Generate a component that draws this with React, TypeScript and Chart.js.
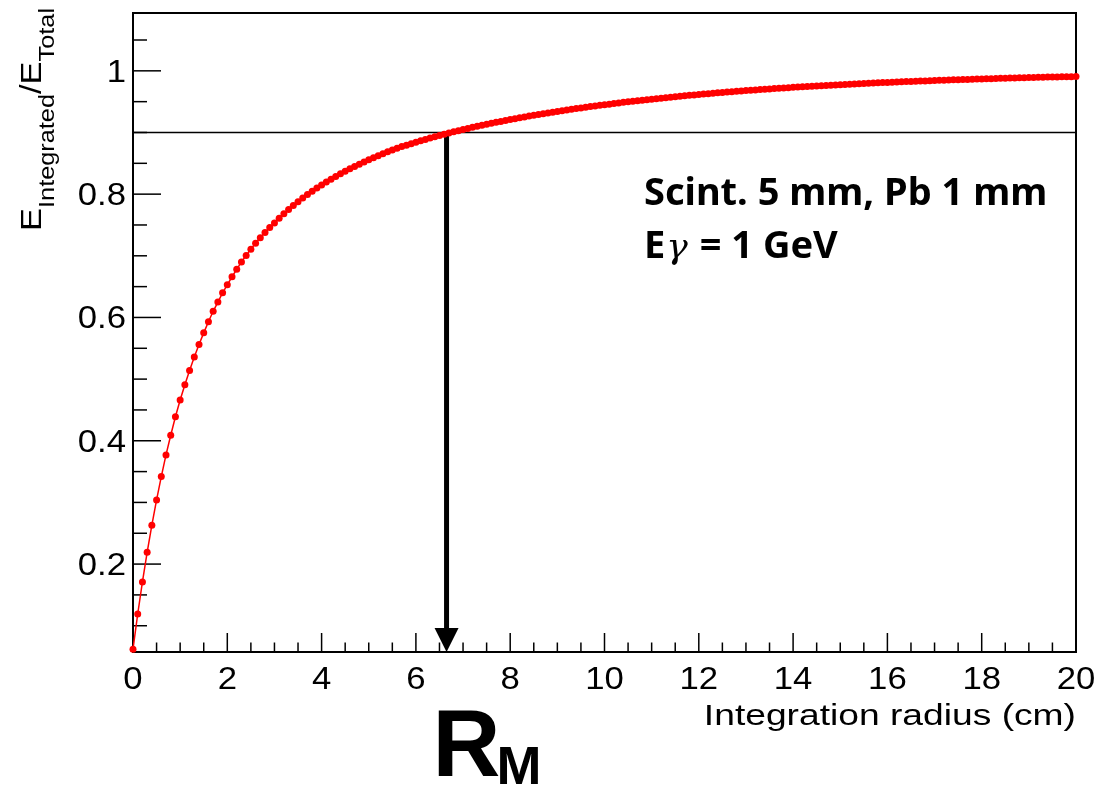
import React, { useEffect, useRef } from "react";
import { Chart, registerables } from "chart.js";

Chart.register(...registerables);

// Integration radius (cm), sampled every 0.1 cm
const radiusCm = [
  0, 0.1, 0.2, 0.3, 0.4, 0.5, 0.6, 0.7, 0.8, 0.9,
  1, 1.1, 1.2, 1.3, 1.4, 1.5, 1.6, 1.7, 1.8, 1.9,
  2, 2.1, 2.2, 2.3, 2.4, 2.5, 2.6, 2.7, 2.8, 2.9,
  3, 3.1, 3.2, 3.3, 3.4, 3.5, 3.6, 3.7, 3.8, 3.9,
  4, 4.1, 4.2, 4.3, 4.4, 4.5, 4.6, 4.7, 4.8, 4.9,
  5, 5.1, 5.2, 5.3, 5.4, 5.5, 5.6, 5.7, 5.8, 5.9,
  6, 6.1, 6.2, 6.3, 6.4, 6.5, 6.6, 6.7, 6.8, 6.9,
  7, 7.1, 7.2, 7.3, 7.4, 7.5, 7.6, 7.7, 7.8, 7.9,
  8, 8.1, 8.2, 8.3, 8.4, 8.5, 8.6, 8.7, 8.8, 8.9,
  9, 9.1, 9.2, 9.3, 9.4, 9.5, 9.6, 9.7, 9.8, 9.9,
  10, 10.1, 10.2, 10.3, 10.4, 10.5, 10.6, 10.7, 10.8, 10.9,
  11, 11.1, 11.2, 11.3, 11.4, 11.5, 11.6, 11.7, 11.8, 11.9,
  12, 12.1, 12.2, 12.3, 12.4, 12.5, 12.6, 12.7, 12.8, 12.9,
  13, 13.1, 13.2, 13.3, 13.4, 13.5, 13.6, 13.7, 13.8, 13.9,
  14, 14.1, 14.2, 14.3, 14.4, 14.5, 14.6, 14.7, 14.8, 14.9,
  15, 15.1, 15.2, 15.3, 15.4, 15.5, 15.6, 15.7, 15.8, 15.9,
  16, 16.1, 16.2, 16.3, 16.4, 16.5, 16.6, 16.7, 16.8, 16.9,
  17, 17.1, 17.2, 17.3, 17.4, 17.5, 17.6, 17.7, 17.8, 17.9,
  18, 18.1, 18.2, 18.3, 18.4, 18.5, 18.6, 18.7, 18.8, 18.9,
  19, 19.1, 19.2, 19.3, 19.4, 19.5, 19.6, 19.7, 19.8, 19.9,
  20,
];

// Fraction of the shower energy contained inside the radius
const energyFraction = [
  0.062, 0.119, 0.171, 0.219, 0.263, 0.304, 0.342, 0.377, 0.409, 0.439,
  0.466, 0.491, 0.514, 0.536, 0.556, 0.575, 0.593, 0.61, 0.625, 0.64,
  0.653, 0.666, 0.678, 0.69, 0.7006, 0.7108, 0.7203, 0.7293, 0.7378, 0.7458,
  0.7534, 0.7609, 0.7681, 0.775, 0.7815, 0.7877, 0.7936, 0.7993, 0.8047, 0.8099,
  0.8149, 0.8197, 0.8243, 0.8287, 0.833, 0.8371, 0.8411, 0.8449, 0.8486, 0.8522,
  0.8557, 0.8591, 0.8624, 0.8656, 0.8687, 0.8717, 0.8745, 0.8771, 0.8795, 0.8819,
  0.8843, 0.8866, 0.8888, 0.891, 0.8931, 0.8951, 0.8972, 0.8991, 0.901, 0.9029,
  0.9047, 0.9065, 0.9083, 0.91, 0.9117, 0.9133, 0.9149, 0.9165, 0.918, 0.9195,
  0.921, 0.9224, 0.9238, 0.9252, 0.9266, 0.9279, 0.9292, 0.9305, 0.9317, 0.933,
  0.9342, 0.9354, 0.9365, 0.9377, 0.9388, 0.9399, 0.9409, 0.942, 0.943, 0.9441,
  0.945, 0.946, 0.947, 0.9479, 0.9489, 0.9498, 0.9507, 0.9516, 0.9524, 0.9533,
  0.9541, 0.9549, 0.9557, 0.9565, 0.9573, 0.958, 0.9588, 0.9595, 0.9602, 0.961,
  0.9616, 0.9623, 0.963, 0.9636, 0.9643, 0.9649, 0.9655, 0.9661, 0.9667, 0.9673,
  0.9679, 0.9685, 0.969, 0.9696, 0.9701, 0.9707, 0.9712, 0.9717, 0.9722, 0.9727,
  0.9732, 0.9736, 0.9741, 0.9746, 0.975, 0.9755, 0.9759, 0.9763, 0.9767, 0.9772,
  0.9776, 0.978, 0.9783, 0.9787, 0.9791, 0.9795, 0.9798, 0.9802, 0.9805, 0.9809,
  0.9812, 0.9816, 0.9819, 0.9822, 0.9825, 0.9828, 0.9831, 0.9834, 0.9837, 0.984,
  0.9843, 0.9846, 0.9848, 0.9851, 0.9854, 0.9856, 0.9859, 0.9861, 0.9864, 0.9866,
  0.9869, 0.9871, 0.9873, 0.9875, 0.9878, 0.988, 0.9882, 0.9884, 0.9886, 0.9888,
  0.989, 0.9892, 0.9894, 0.9896, 0.9898, 0.9899, 0.9901, 0.9903, 0.9905, 0.9906,
  0.9908,
];

const xMajorTicks = [0, 2, 4, 6, 8, 10, 12, 14, 16, 18, 20];
const xTickLabels = ["0", "2", "4", "6", "8", "10", "12", "14", "16", "18", "20"];
const yMajorTicks = [0.2, 0.4, 0.6, 0.8, 1];
const yTickLabels = ["0.2", "0.4", "0.6", "0.8", "1"];

const X_MIN = 0;
const X_MAX = 20;
const Y_MIN = 0.0574;
const Y_MAX = 1.0938;
const X_MINOR_STEP = 0.5;
const Y_MINOR_STEP = 0.05;

const containmentLevel = 0.9; // 90 % containment
const moliereRadius = 6.65; // cm

const AXIS_FONT = "'Liberation Sans', Arial, Helvetica, sans-serif";
const LABEL_STRETCH = 1.12;
const TITLE_STRETCH = 1.24;
const YTITLE_STRETCH = 1.15;

type Seg = { text: string; font: string; dy: number };

function drawStretched(
  ctx: CanvasRenderingContext2D,
  text: string,
  x: number,
  y: number,
  font: string,
  align: "left" | "right" | "center",
  sx: number
) {
  ctx.save();
  ctx.font = font;
  const w = ctx.measureText(text).width * sx;
  const left = align === "left" ? x : align === "right" ? x - w : x - w / 2;
  ctx.translate(left, y);
  ctx.scale(sx, 1);
  ctx.textAlign = "left";
  ctx.textBaseline = "alphabetic";
  ctx.fillText(text, 0, 0);
  ctx.restore();
}

const rootDecorations = {
  id: "rootDecorations",
  beforeDatasetsDraw(chart: any) {
    const { ctx, chartArea: a, scales } = chart;
    const xs = scales.x;
    const ys = scales.y;
    ctx.save();
    ctx.fillStyle = "#fff";
    ctx.fillRect(0, 0, chart.width, chart.height);
    ctx.strokeStyle = "#000";
    ctx.fillStyle = "#000";
    ctx.lineCap = "butt";

    const seg = (x1: number, y1: number, x2: number, y2: number) => {
      ctx.beginPath();
      ctx.moveTo(x1, y1);
      ctx.lineTo(x2, y2);
      ctx.stroke();
    };

    // 90 % containment level
    const yl = ys.getPixelForValue(containmentLevel);
    ctx.lineWidth = 1.5;
    seg(a.left, yl, a.right, yl);

    // arrow down to the Moliere radius
    const ax = xs.getPixelForValue(moliereRadius);
    const head = 24;
    ctx.lineWidth = 5;
    seg(ax, yl, ax, a.bottom - head + 2);
    ctx.beginPath();
    ctx.moveTo(ax - 12, a.bottom - head);
    ctx.lineTo(ax + 12, a.bottom - head);
    ctx.lineTo(ax, a.bottom);
    ctx.closePath();
    ctx.fill();

    // ticks (inside the frame)
    ctx.lineWidth = 1.5;
    const xMajLen = 19;
    const yMajLen = 28;
    for (let v = X_MIN; v <= X_MAX + 1e-9; v += X_MINOR_STEP) {
      const px = xs.getPixelForValue(v);
      const major = xMajorTicks.some((t) => Math.abs(t - v) < 1e-6);
      seg(px, a.bottom, px, a.bottom - (major ? xMajLen : xMajLen / 2));
    }
    for (let k = Math.ceil(Y_MIN / Y_MINOR_STEP); k * Y_MINOR_STEP <= Y_MAX; k++) {
      const v = k * Y_MINOR_STEP;
      const py = ys.getPixelForValue(v);
      const major = yMajorTicks.some((t) => Math.abs(t - v) < 1e-6);
      seg(a.left, py, a.left + (major ? yMajLen : yMajLen / 2), py);
    }

    // frame
    ctx.lineWidth = 2;
    ctx.strokeRect(a.left, a.top, a.right - a.left, a.bottom - a.top);

    // tick labels
    const tickFont = `31px ${AXIS_FONT}`;
    xMajorTicks.forEach((t, i) => {
      drawStretched(ctx, xTickLabels[i], xs.getPixelForValue(t), a.bottom + 37, tickFont, "center", LABEL_STRETCH);
    });
    yMajorTicks.forEach((t, i) => {
      drawStretched(ctx, yTickLabels[i], a.left - 7, ys.getPixelForValue(t) + 11, tickFont, "right", LABEL_STRETCH);
    });

    // x-axis title
    drawStretched(ctx, "Integration radius (cm)", a.right, 725, `30px ${AXIS_FONT}`, "right", TITLE_STRETCH);

    // y-axis title, rotated, ending at the top of the frame
    const big = `30px ${AXIS_FONT}`;
    const small = `22px ${AXIS_FONT}`;
    const parts: Seg[] = [
      { text: "E", font: big, dy: 0 },
      { text: "Integrated", font: small, dy: 13 },
      { text: "/E", font: big, dy: 0 },
      { text: "Total", font: small, dy: 13 },
    ];
    let total = 0;
    const widths = parts.map((p) => {
      ctx.font = p.font;
      const w = ctx.measureText(p.text).width * YTITLE_STRETCH;
      total += w;
      return w;
    });
    ctx.save();
    ctx.translate(41, a.top - 5);
    ctx.rotate(-Math.PI / 2);
    let cx = -total;
    parts.forEach((p, i) => {
      drawStretched(ctx, p.text, cx, p.dy, p.font, "left", YTITLE_STRETCH);
      cx += widths[i];
    });
    ctx.restore();

    // annotation
    ctx.textAlign = "left";
    ctx.textBaseline = "alphabetic";
    ctx.font = "bold 38px 'Noto Sans', 'Open Sans', sans-serif";
    ctx.fillText("Scint. 5 mm, Pb 1 mm", 644, 205);
    ctx.fillText("E", 644, 258);
    let ex = 644 + ctx.measureText("E").width + 1;
    ctx.font = "italic 36px 'DejaVu Serif', serif";
    ctx.fillText("\u03b3", ex, 258);
    ex += ctx.measureText("\u03b3").width + 2;
    ctx.font = "bold 38px 'Noto Sans', 'Open Sans', sans-serif";
    ctx.fillText(" = 1 GeV", ex, 258);

    // R_M label under the arrow
    ctx.font = `bold 94px ${AXIS_FONT}`;
    const rx = ax - 14;
    ctx.fillText("R", rx, 776);
    const rw = ctx.measureText("R").width;
    ctx.font = `bold 54px ${AXIS_FONT}`;
    ctx.fillText("M", rx + rw - 4, 784);

    ctx.restore();
  },
};

export default function App() {
  const canvasRef = useRef<HTMLCanvasElement | null>(null);

  useEffect(() => {
    const canvas = canvasRef.current;
    if (!canvas) return;
    const points = radiusCm.map((r, i) => ({ x: r, y: energyFraction[i] }));
    const chart = new Chart(canvas, {
      type: "line",
      data: {
        datasets: [
          {
            data: points,
            borderColor: "#ff0000",
            backgroundColor: "#ff0000",
            borderWidth: 1.5,
            pointRadius: 3.5,
            pointBorderWidth: 0,
            pointBackgroundColor: "#ff0000",
            tension: 0,
            clip: false as any,
          },
        ],
      },
      options: {
        responsive: false,
        animation: false,
        devicePixelRatio: 1,
        layout: { padding: { left: 133, right: 23, top: 13, bottom: 134 } },
        plugins: { legend: { display: false }, tooltip: { enabled: false } },
        events: [],
        scales: {
          x: { type: "linear", min: X_MIN, max: X_MAX, display: false },
          y: { type: "linear", min: Y_MIN, max: Y_MAX, display: false },
        },
      },
      plugins: [rootDecorations],
    });
    return () => chart.destroy();
  }, []);

  return (
    <div style={{ position: "fixed", left: 0, top: 0, width: 1099, height: 786, background: "#fff" }}>
      <canvas ref={canvasRef} width={1099} height={786} style={{ width: 1099, height: 786, display: "block" }} />
    </div>
  );
}
